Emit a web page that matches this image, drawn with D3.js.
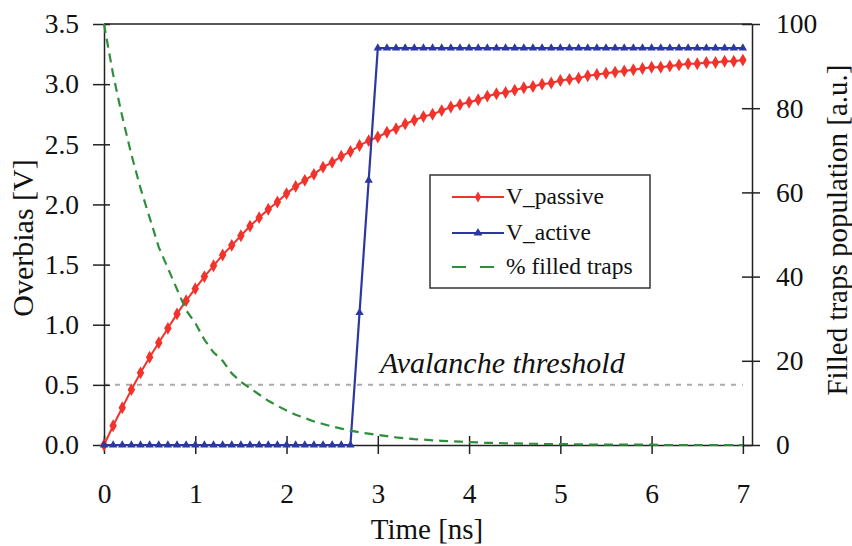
<!DOCTYPE html>
<html>
<head>
<meta charset="utf-8">
<script src="https://cdn.jsdelivr.net/npm/d3@7"></script>
<style>
  body { margin: 0; background: #fff; }
  svg { display: block; font-family: "Liberation Serif", "Times New Roman", serif; }
</style>
</head>
<body>
<div id="chart"></div>
<script>
// sample times [ns]
var timeNs = [0.0,0.1,0.2,0.3,0.4,0.5,0.6,0.7,0.8,0.9,
  1.0,1.1,1.2,1.3,1.4,1.5,1.6,1.7,1.8,1.9,
  2.0,2.1,2.2,2.3,2.4,2.5,2.6,2.7,2.8,2.9,
  3.0,3.1,3.2,3.3,3.4,3.5,3.6,3.7,3.8,3.9,
  4.0,4.1,4.2,4.3,4.4,4.5,4.6,4.7,4.8,4.9,
  5.0,5.1,5.2,5.3,5.4,5.5,5.6,5.7,5.8,5.9,
  6.0,6.1,6.2,6.3,6.4,6.5,6.6,6.7,6.8,6.9,7.0];

// overbias, passive quenching [V]
var vPassive = [0.00,0.16,0.31,0.46,0.60,0.73,0.85,0.97,1.09,1.20,
  1.30,1.40,1.49,1.58,1.66,1.74,1.82,1.89,1.96,2.02,
  2.09,2.15,2.20,2.25,2.31,2.35,2.40,2.44,2.49,2.53,
  2.56,2.60,2.63,2.67,2.70,2.73,2.75,2.78,2.81,2.83,
  2.85,2.87,2.90,2.92,2.93,2.95,2.97,2.98,3.00,3.01,
  3.03,3.04,3.05,3.07,3.08,3.09,3.10,3.11,3.12,3.13,
  3.14,3.14,3.15,3.16,3.17,3.17,3.18,3.18,3.19,3.19,3.20];

// overbias, active quenching [V]
var vActive = [0,0,0,0,0,0,0,0,0,0,
  0,0,0,0,0,0,0,0,0,0,
  0,0,0,0,0,0,0,0,1.1,2.2,
  3.3,3.3,3.3,3.3,3.3,3.3,3.3,3.3,3.3,3.3,
  3.3,3.3,3.3,3.3,3.3,3.3,3.3,3.3,3.3,3.3,
  3.3,3.3,3.3,3.3,3.3,3.3,3.3,3.3,3.3,3.3,
  3.3,3.3,3.3,3.3,3.3,3.3,3.3,3.3,3.3,3.3,3.3];

// filled traps population [a.u.]
var filledTraps = [100,88,78,69,61,54,47,42,37,32,
  29,25,22,20,17,15,13.5,12,10.5,9.3,
  8.2,7.2,6.4,5.6,5.0,4.4,3.9,3.4,3.0,2.7,
  2.4,2.1,1.8,1.6,1.4,1.3,1.1,1.0,0.9,0.8,
  0.7,0.6,0.5,0.5,0.4,0.4,0.3,0.3,0.25,0.2,
  0.2,0.2,0.15,0.1,0.1,0.1,0.1,0.1,0.1,0.1,
  0.1,0,0,0,0,0,0,0,0,0,0];

var threshold = 0.5;
var leftTicks = [0,0.5,1,1.5,2,2.5,3,3.5];
var rightTicks = [0,20,40,60,80,100];
var xTicks = [0,1,2,3,4,5,6,7];
var legendLabels = ["V_passive", "V_active", "% filled traps"];

var red = "#f2332b", blue = "#2c38a2", green = "#2e8f3a";

var W = 852, H = 546;
var plotL = 104, plotR = 752, plotT = 24, plotB = 445;

var svg = d3.select("#chart").append("svg")
    .attr("width", W)
    .attr("height", H);

var x = d3.scaleLinear().domain([0, 7.1]).range([plotL, plotR]);
var yL = d3.scaleLinear().domain([0, 3.5]).range([plotB, plotT]);
var yR = d3.scaleLinear().domain([0, 100]).range([plotB, plotT]);

// top border
svg.append("line")
    .attr("x1", plotL).attr("x2", plotR)
    .attr("y1", plotT).attr("y2", plotT)
    .attr("stroke", "#222").attr("stroke-width", 1.5);

// threshold line
svg.append("line")
    .attr("x1", x(0)).attr("x2", x(7))
    .attr("y1", yL(threshold)).attr("y2", yL(threshold))
    .attr("stroke", "#aaa").attr("stroke-width", 2)
    .attr("stroke-dasharray", "5,6");

svg.append("text")
    .attr("x", 380).attr("y", 373)
    .attr("font-size", 30).attr("font-style", "italic")
    .attr("fill", "#111")
    .text("Avalanche threshold");

// axes
var gx = svg.append("g")
    .attr("transform", "translate(0," + plotB + ")")
    .call(d3.axisBottom(x).tickValues(xTicks).tickFormat(d3.format("d")).tickSize(9).tickSizeOuter(0));
gx.selectAll(".tick line").attr("y1", -9);
gx.selectAll(".tick text").attr("y", 58).attr("dy", null);

var gl = svg.append("g")
    .attr("transform", "translate(" + plotL + ",0)")
    .call(d3.axisLeft(yL).tickValues(leftTicks).tickFormat(d3.format(".1f")).tickSize(11).tickSizeOuter(0).tickPadding(14));
gl.selectAll(".tick line").attr("x1", 6);

var gr = svg.append("g")
    .attr("transform", "translate(" + plotR + ",0)")
    .call(d3.axisRight(yR).tickValues(rightTicks).tickSize(8).tickSizeOuter(0).tickPadding(16));
gr.selectAll(".tick line").attr("x1", -10);

[gx, gl, gr].forEach(function (g) {
  g.select(".domain").attr("stroke", "#222").attr("stroke-width", 1.5);
  g.selectAll(".tick line").attr("stroke", "#222").attr("stroke-width", 1.5);
  g.selectAll(".tick text")
    .attr("font-family", "Liberation Serif")
    .attr("font-size", 27.5)
    .attr("fill", "#111");
});

// axis titles
svg.append("text")
    .attr("x", 427).attr("y", 539)
    .attr("text-anchor", "middle")
    .attr("font-size", 29).attr("fill", "#111")
    .text("Time [ns]");

svg.append("text")
    .attr("transform", "translate(33,238) rotate(-90)")
    .attr("text-anchor", "middle")
    .attr("font-size", 30).attr("fill", "#111")
    .text("Overbias [V]");

svg.append("text")
    .attr("transform", "translate(847,230) rotate(-90)")
    .attr("text-anchor", "middle")
    .attr("font-size", 29).attr("fill", "#111")
    .text("Filled traps population [a.u.]");

// series
var passive = timeNs.map(function (t, i) { return {t: t, v: vPassive[i]}; });
var active = timeNs.map(function (t, i) { return {t: t, v: vActive[i]}; });
var traps = timeNs.map(function (t, i) { return {t: t, v: filledTraps[i]}; });

var lineL = d3.line().x(function (d) { return x(d.t); }).y(function (d) { return yL(d.v); });
var lineR = d3.line().x(function (d) { return x(d.t); }).y(function (d) { return yR(d.v); });

svg.append("path").datum(passive)
    .attr("d", lineL).attr("fill", "none")
    .attr("stroke", red).attr("stroke-width", 2);
svg.selectAll(".mk-passive").data(passive).enter().append("path")
    .attr("class", "mk-passive")
    .attr("transform", function (d) { return "translate(" + x(d.t) + "," + yL(d.v) + ")"; })
    .attr("d", d3.symbol(d3.symbolDiamond, 48))
    .attr("fill", red);

svg.append("path").datum(active)
    .attr("d", lineL).attr("fill", "none")
    .attr("stroke", blue).attr("stroke-width", 2.2);
svg.selectAll(".mk-active").data(active).enter().append("path")
    .attr("class", "mk-active")
    .attr("transform", function (d) { return "translate(" + x(d.t) + "," + yL(d.v) + ")"; })
    .attr("d", d3.symbol(d3.symbolTriangle, 30))
    .attr("fill", blue);

svg.append("path").datum(traps)
    .attr("d", lineR).attr("fill", "none")
    .attr("stroke", green).attr("stroke-width", 2.2)
    .attr("stroke-dasharray", "9,6");

// legend
var lg = svg.append("g");
lg.append("rect")
    .attr("x", 430).attr("y", 175)
    .attr("width", 220).attr("height", 113)
    .attr("fill", "#fff").attr("stroke", "#333").attr("stroke-width", 1.5);

var legendColors = [red, blue, green];
var legendY = [197, 233, 267];
legendLabels.forEach(function (label, i) {
  var ly = legendY[i];
  lg.append("line")
      .attr("x1", 452).attr("x2", i === 2 ? 497 : 504)
      .attr("y1", ly).attr("y2", ly)
      .attr("stroke", legendColors[i]).attr("stroke-width", 2)
      .attr("stroke-dasharray", i === 2 ? "14,14" : null);
  if (i === 0) {
    lg.append("path").attr("transform", "translate(478," + ly + ")")
        .attr("d", d3.symbol(d3.symbolDiamond, 34)).attr("fill", red);
  }
  if (i === 1) {
    lg.append("path").attr("transform", "translate(478," + ly + ")")
        .attr("d", d3.symbol(d3.symbolTriangle, 34)).attr("fill", blue);
  }
  lg.append("text")
      .attr("x", 506).attr("y", ly + 7)
      .attr("font-size", 23.5).attr("fill", "#111")
      .text(label);
});
</script>
</body>
</html>
